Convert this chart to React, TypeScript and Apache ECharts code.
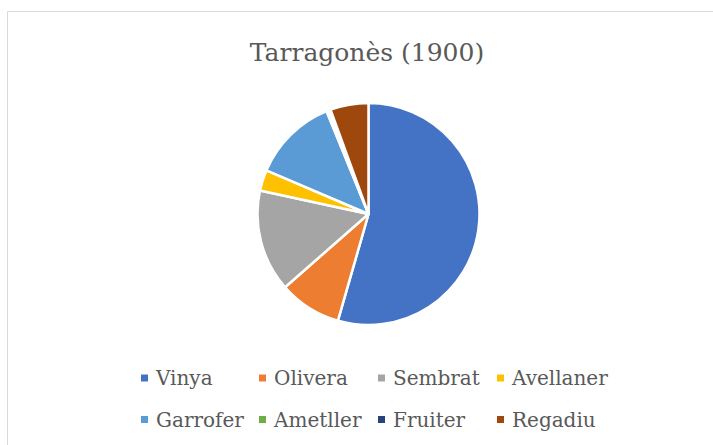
import React, { useEffect, useRef } from "react";
import * as echarts from "echarts";

const categories = ["Vinya", "Olivera", "Sembrat", "Avellaner", "Garrofer", "Ametller", "Fruiter", "Regadiu"];
const values = [53.9, 9.0, 14.7, 3.0, 12.3, 0.3, 0.3, 5.5];
const colors = ["#4472C4", "#ED7D31", "#A5A5A5", "#FFC000", "#5B9BD5", "#70AD47", "#264478", "#9E480E"];
const titleText = "Tarragonès (1900)";

const FONT = "DejaVu Serif";

export default function App() {
  const ref = useRef<HTMLDivElement>(null);
  useEffect(() => {
    if (!ref.current) return;
    const chart = echarts.init(ref.current, null, { renderer: "svg" });
    const colLeft = [141, 259, 378, 497];
    const rowTop = [366, 407.5];
    const legends = categories.map((name, i) => ({
      data: [name],
      left: colLeft[i % 4],
      top: rowTop[Math.floor(i / 4)],
      padding: 0,
      itemWidth: 7,
      itemHeight: 7,
      icon: "rect",
      selectedMode: false,
      itemStyle: { borderWidth: 0 },
      textStyle: {
        fontFamily: FONT,
        fontSize: 20,
        color: "#595959",
        lineHeight: 24,
        padding: [0, 0, 0, 3],
      },
    }));
    chart.setOption({
      animation: false,
      backgroundColor: "#ffffff",
      color: colors,
      title: {
        text: titleText,
        left: 362,
        textAlign: "center",
        top: 35,
        textStyle: {
          fontFamily: FONT,
          fontSize: 25,
          fontWeight: "normal",
          color: "#595959",
        },
      },
      graphic: [
        {
          type: "rect",
          shape: { x: 7.5, y: 11.5, width: 800, height: 600 },
          style: { fill: "none", stroke: "#D9D9D9", lineWidth: 1 },
          silent: true,
        },
      ],
      legend: legends,
      series: [
        {
          type: "pie",
          center: [368.5, 214],
          radius: 111,
          startAngle: 90,
          clockwise: true,
          avoidLabelOverlap: false,
          label: { show: false },
          labelLine: { show: false },
          emphasis: { disabled: true },
          itemStyle: { borderColor: "#ffffff", borderWidth: 2.5 },
          data: categories.map((name, i) => ({ name, value: values[i] })),
        },
      ],
    });
    return () => chart.dispose();
  }, []);
  return (
    <div
      ref={ref}
      style={{ position: "fixed", left: 0, top: 0, width: 713, height: 445 }}
    />
  );
}
